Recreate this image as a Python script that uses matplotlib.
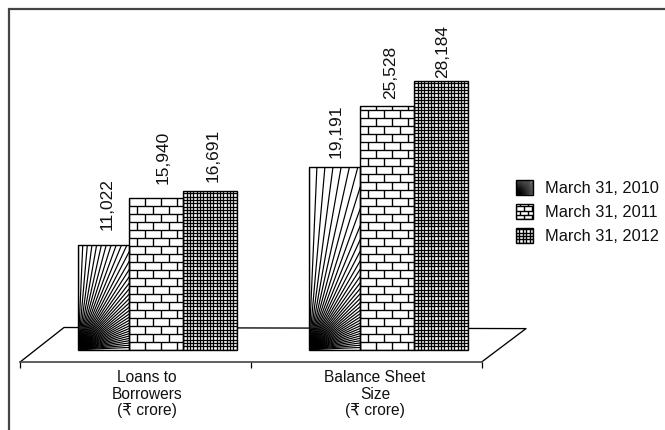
import numpy as np
import matplotlib
matplotlib.use("Agg")
import matplotlib.pyplot as plt
from matplotlib.collections import LineCollection
from matplotlib.legend_handler import HandlerBase
from matplotlib.patches import Patch, Rectangle
from matplotlib.transforms import Affine2D

# ---- data ----
categories = ["Loans to\nBorrowers\n(₹ crore)", "Balance Sheet\nSize\n(₹ crore)"]
series_names = ["March 31, 2010", "March 31, 2011", "March 31, 2012"]
march_2010 = [11022, 19191]
march_2011 = [15940, 25528]
march_2012 = [16691, 28184]

# ---- layout (pixels, top-left origin) ----
W, H, DPI = 665, 430, 100
PX = 72 / DPI
AX_L, AX_R, AX_BOTTOM, AX_TOP = 20.5, 482.0, 361.7, 9.0
BASE_PY, PX_PER_VAL = 349.7, 0.00953
PX_PER_CAT = (AX_R - AX_L) / 2
FONT = ["Liberation Sans", "DejaVu Sans"]
plt.rcParams["font.family"] = FONT

bar_lefts = [-57.7, -6.6, 47.6]      # px from the category centre
bar_widths = [51.1, 54.2, 53.6]
label_dx = [[3.5, 6.5, 3], [1.5, 3, 1.5]]  # px, per category and series
label_gap = [[14.6, 13.8, 8.9], [8.8, 7.7, 3.0]]
label_xs_px = [147, 375]

fig = plt.figure(figsize=(W / DPI, H / DPI), dpi=DPI, facecolor="white")
ax = fig.add_axes([AX_L / W, 1 - AX_BOTTOM / H, (AX_R - AX_L) / W, (AX_BOTTOM - AX_TOP) / H])
ax.patch.set_visible(False)
ax.set_xlim(-0.5, 1.5)
ax.set_ylim((BASE_PY - AX_BOTTOM) / PX_PER_VAL, (BASE_PY - AX_TOP) / PX_PER_VAL)
px_tf = Affine2D().scale(1, -1).translate(0, H)


def fan(w, h, step_deg=2.5):
    r = 2 * (w + h)
    return [[(0, 0), (r * np.cos(a), r * np.sin(a))]
            for a in np.radians(np.arange(0, 90.1, step_deg))]


def brick(w, h, row=8.0, pitch=16.0):
    segs = []
    n = int(h / row) + 1
    for i in range(n):
        y0 = i * row
        segs.append([(0, y0), (w, y0)])
        start = 0 if i % 2 == 0 else pitch / 2
        for x in np.arange(start, w + 0.01, pitch):
            segs.append([(x, y0), (x, y0 + row)])
    return segs


def grid(w, h, pitch=3.33):
    segs = [[(x, 0), (x, h)] for x in np.arange(0, w + 0.01, pitch)]
    segs += [[(0, y), (w, y)] for y in np.arange(0, h + 0.01, pitch)]
    return segs


patterns = [fan, brick, grid]
bar_lw = [1.2, 1.35, 1.3]
swatch_kw = [dict(step_deg=2.5), dict(row=4.2, pitch=8.0), dict(pitch=3.4)]
swatch_lw = [0.6, 1.4, 1.4]

all_values = [march_2010, march_2011, march_2012]
x_cats = np.arange(len(categories))

# floor of the pseudo-3D plane
ax.plot([AX_L, 64, 526, AX_R], [AX_BOTTOM, 327.5, 328.6, AX_BOTTOM], color="black", lw=0.95,
        transform=px_tf, clip_on=False, zorder=1)

for s, values in enumerate(all_values):
    lefts = x_cats + bar_lefts[s] / PX_PER_CAT
    width = bar_widths[s] / PX_PER_CAT
    bars = ax.bar(lefts, values, width, align="edge", color="white", zorder=2)
    ax.bar(lefts, values, width, align="edge", fill=False, edgecolor="black", linewidth=1.0, zorder=4)
    for c, rect in enumerate(bars):
        (x0, y0), (x1, y1) = ax.transData.transform([(rect.get_x(), 0), (rect.get_x() + width, rect.get_height())])
        lc = LineCollection(patterns[s](x1 - x0, y1 - y0), colors="black", linewidths=bar_lw[s] * PX,
                            transform=Affine2D().translate(x0, y0), zorder=3)
        ax.add_collection(lc, autolim=False)
        lc.set_clip_path(rect)
        ax.annotate(f"{values[c]:,}", (rect.get_x() + width / 2, values[c]),
                    xytext=(label_dx[c][s] * PX, label_gap[c][s] * PX), textcoords="offset points",
                    rotation=90, ha="center", va="bottom", fontsize=12.5, color="#111111")

# axes furniture
for side in ("top", "left", "right"):
    ax.spines[side].set_visible(False)
ax.spines["bottom"].set_color("#444444")
ax.spines["bottom"].set_linewidth(1.2)
ax.set_yticks([])
ax.set_xticks([-0.5, 0.5, 1.5])
ax.set_xticklabels([])
ax.tick_params(axis="x", which="major", length=4, width=0.9, color="black")
ax.set_xticks([(p - AX_L) / PX_PER_CAT - 0.5 for p in label_xs_px], categories, minor=True)
ax.tick_params(axis="x", which="minor", length=0, pad=6, labelsize=11.2, labelcolor="#111111")
for t in ax.get_xticklabels(minor=True):
    t.set_linespacing(1.13)
    t.set_multialignment("center")

# outer frame: only the left and top rules of the box are visible
ax.plot([8.5, 8.5, W], [H, 9, 9], color="#444444", lw=1.6, transform=px_tf, clip_on=False,
        solid_joinstyle="miter", zorder=1)


class SwatchHandler(HandlerBase):
    def __init__(self, idx):
        super().__init__()
        self.idx = idx

    def legend_artist(self, legend, orig_handle, fontsize, handlebox):
        w, h = handlebox.width, handlebox.height
        x0, y0 = -handlebox.xdescent, -handlebox.ydescent
        wp, hp = w / PX, h / PX
        rect = Rectangle((x0, y0), w, h, facecolor="white", edgecolor="black", lw=1.0)
        handlebox.add_artist(rect)
        segs = patterns[self.idx](wp, hp, **swatch_kw[self.idx])
        segs = [[(x0 + a * PX, y0 + b * PX) for a, b in seg] for seg in segs]
        lc = LineCollection(segs, colors="black", linewidths=swatch_lw[self.idx] * PX)
        handlebox.add_artist(lc)
        lc.set_clip_path(rect)
        return rect


handles = [Patch(label=n) for n in series_names]
leg = ax.legend(handles=handles, handler_map={h: SwatchHandler(i) for i, h in enumerate(handles)},
                loc="upper left", bbox_to_anchor=(516, 180), bbox_transform=px_tf, frameon=False,
                fontsize=11.8, handlelength=1.04, handleheight=1.04, handletextpad=0.73,
                labelspacing=0.47, borderpad=0, borderaxespad=0, labelcolor="#111111")

fig.savefig("out.png", dpi=DPI, facecolor="white")
